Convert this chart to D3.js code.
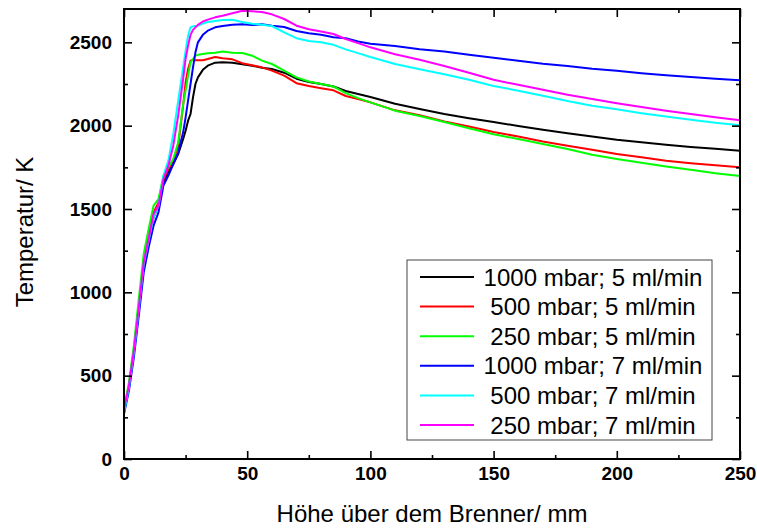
<!DOCTYPE html>
<html>
<head>
<meta charset="utf-8">
<script src="https://cdn.jsdelivr.net/npm/d3@7"></script>
<style>
  body { margin: 0; background: #fff; }
  svg { display: block; }
  text { font-family: "Liberation Sans", Arial, sans-serif; fill: #000; }
</style>
</head>
<body>
<svg id="chart" width="757" height="528"></svg>
<script>
// Height above the burner (mm), shared by all profiles
const heightMm = [0,2,4,6,8,10,12,14,16,18,20,22,24,25,26,27,28,29,30,32,34,37,40,44,48,52,56,60,65,70,75,80,85,90,95,100,110,120,130,140,150,160,170,180,190,200,210,220,230,240,250];

// Temperature profiles (K)
const t1000mbar5ml = [285,430,640,900,1160,1300,1450,1520,1660,1720,1770,1830,1920,1970,2030,2070,2170,2250,2290,2335,2360,2378,2380,2378,2368,2360,2348,2340,2318,2282,2262,2250,2235,2208,2190,2172,2132,2100,2070,2045,2022,1998,1975,1955,1935,1915,1900,1885,1872,1862,1850];
const t500mbar5ml  = [290,440,650,920,1190,1330,1480,1540,1680,1740,1790,1880,2120,2260,2340,2390,2395,2392,2393,2393,2400,2412,2405,2398,2375,2362,2350,2330,2300,2255,2238,2225,2212,2178,2160,2140,2092,2062,2025,1995,1962,1935,1905,1880,1855,1830,1810,1790,1775,1762,1750];
const t250mbar5ml  = [300,460,680,960,1230,1380,1520,1560,1700,1750,1800,1900,2130,2210,2300,2380,2400,2420,2425,2430,2435,2438,2445,2438,2436,2420,2390,2370,2330,2290,2265,2250,2235,2195,2165,2140,2090,2058,2022,1985,1948,1920,1890,1860,1825,1800,1778,1755,1735,1715,1698];
const t1000mbar7ml = [270,410,610,860,1120,1270,1400,1480,1640,1700,1770,1840,1960,2050,2150,2250,2350,2440,2500,2545,2570,2590,2598,2606,2608,2604,2608,2600,2592,2568,2555,2545,2530,2525,2505,2492,2478,2458,2445,2425,2408,2390,2372,2358,2342,2330,2315,2302,2292,2282,2272];
const t500mbar7ml  = [280,430,640,900,1170,1310,1450,1520,1700,1790,1950,2150,2350,2450,2540,2590,2596,2598,2600,2612,2622,2628,2634,2636,2622,2612,2606,2598,2560,2525,2508,2500,2485,2458,2435,2412,2370,2338,2308,2275,2238,2210,2180,2148,2120,2098,2075,2055,2035,2018,2002];
const t250mbar7ml  = [300,440,650,910,1180,1320,1470,1520,1680,1760,1880,2060,2280,2400,2480,2545,2575,2590,2605,2625,2636,2650,2660,2675,2690,2686,2682,2668,2640,2600,2578,2565,2550,2520,2495,2470,2428,2395,2358,2318,2275,2245,2215,2185,2160,2135,2112,2090,2070,2050,2032];

const seriesNames  = ["1000 mbar; 5 ml/min", "500 mbar; 5 ml/min", "250 mbar; 5 ml/min",
                      "1000 mbar; 7 ml/min", "500 mbar; 7 ml/min", "250 mbar; 7 ml/min"];
const seriesValues = [t1000mbar5ml, t500mbar5ml, t250mbar5ml, t1000mbar7ml, t500mbar7ml, t250mbar7ml];
const seriesColors = ["#000000", "#ff0000", "#00ff00", "#0000ff", "#00ffff", "#ff00ff"];

const xTicks = [0, 50, 100, 150, 200, 250];
const xMinorTicks = [25, 75, 125, 175, 225];
const yTicks = [0, 500, 1000, 1500, 2000, 2500];
const yMinorTicks = [250, 750, 1250, 1750, 2250];

const xTitle = "Höhe über dem Brenner/ mm";
const yTitle = "Temperatur/ K";

const svg = d3.select("#chart");
const plot = { left: 124, right: 740, top: 9, bottom: 459 };

const x = d3.scaleLinear().domain([0, 250]).range([plot.left, plot.right]);
const y = d3.scaleLinear().domain([0, 2700]).range([plot.bottom, plot.top]);

// Series lines
const line = d3.line()
  .x((d, i) => x(heightMm[i]))
  .y(d => y(d));

svg.append("clipPath").attr("id", "plotClip")
  .append("rect")
  .attr("x", plot.left).attr("y", plot.top)
  .attr("width", plot.right - plot.left).attr("height", plot.bottom - plot.top);

svg.append("g").attr("clip-path", "url(#plotClip)")
  .selectAll("path.series")
  .data(seriesValues)
  .join("path")
  .attr("class", "series")
  .attr("d", d => line(d))
  .attr("fill", "none")
  .attr("stroke", (d, i) => seriesColors[i])
  .attr("stroke-width", 2)
  .attr("stroke-linejoin", "round");

// Axes: ticks point inward on all four sides
function styleAxis(g) {
  g.select(".domain").remove();
  g.selectAll(".tick line").attr("stroke", "#000").attr("stroke-width", 1.6);
  g.selectAll(".tick text")
    .attr("font-size", 19)
    .attr("font-weight", "bold")
    .style("font-family", "\"Liberation Sans\", Arial, sans-serif");
}

svg.append("g").attr("transform", `translate(0,${plot.bottom})`)
  .call(d3.axisBottom(x).tickValues(xTicks).tickFormat(d3.format("d")).tickSize(-8).tickPadding(8))
  .call(styleAxis);
svg.append("g").attr("transform", `translate(0,${plot.bottom})`)
  .call(d3.axisBottom(x).tickValues(xMinorTicks).tickFormat("").tickSize(-4))
  .call(styleAxis);
svg.append("g").attr("transform", `translate(0,${plot.top})`)
  .call(d3.axisTop(x).tickValues(xTicks).tickFormat("").tickSize(-8))
  .call(styleAxis);
svg.append("g").attr("transform", `translate(0,${plot.top})`)
  .call(d3.axisTop(x).tickValues(xMinorTicks).tickFormat("").tickSize(-4))
  .call(styleAxis);

svg.append("g").attr("transform", `translate(${plot.left},0)`)
  .call(d3.axisLeft(y).tickValues(yTicks).tickFormat(d3.format("d")).tickSize(-8).tickPadding(12))
  .call(styleAxis);
svg.append("g").attr("transform", `translate(${plot.left},0)`)
  .call(d3.axisLeft(y).tickValues(yMinorTicks).tickFormat("").tickSize(-4))
  .call(styleAxis);
svg.append("g").attr("transform", `translate(${plot.right},0)`)
  .call(d3.axisRight(y).tickValues(yTicks).tickFormat("").tickSize(-8))
  .call(styleAxis);
svg.append("g").attr("transform", `translate(${plot.right},0)`)
  .call(d3.axisRight(y).tickValues(yMinorTicks).tickFormat("").tickSize(-4))
  .call(styleAxis);

// Frame
svg.append("rect")
  .attr("x", plot.left).attr("y", plot.top)
  .attr("width", plot.right - plot.left).attr("height", plot.bottom - plot.top)
  .attr("fill", "none").attr("stroke", "#000").attr("stroke-width", 2);

// Axis titles
svg.append("text")
  .attr("x", (plot.left + plot.right) / 2).attr("y", 522)
  .attr("text-anchor", "middle")
  .attr("font-size", 24)
  .text(xTitle);

svg.append("text")
  .attr("transform", `translate(33,232) rotate(-90)`)
  .attr("text-anchor", "middle")
  .attr("font-size", 24)
  .text(yTitle);

// Legend
const legend = svg.append("g");
legend.append("rect")
  .attr("x", 407).attr("y", 260).attr("width", 305).attr("height", 180)
  .attr("fill", "#fff").attr("stroke", "#444").attr("stroke-width", 1);

const rowY = i => 277 + i * 29.6;
legend.selectAll("line.key")
  .data(seriesNames)
  .join("line")
  .attr("class", "key")
  .attr("x1", 420).attr("x2", 474)
  .attr("y1", (d, i) => rowY(i)).attr("y2", (d, i) => rowY(i))
  .attr("stroke", (d, i) => seriesColors[i])
  .attr("stroke-width", 2);

legend.selectAll("text.label")
  .data(seriesNames)
  .join("text")
  .attr("class", "label")
  .attr("x", 593)
  .attr("y", (d, i) => rowY(i))
  .attr("dy", "0.36em")
  .attr("text-anchor", "middle")
  .attr("font-size", 24)
  .text(d => d);
</script>
</body>
</html>
